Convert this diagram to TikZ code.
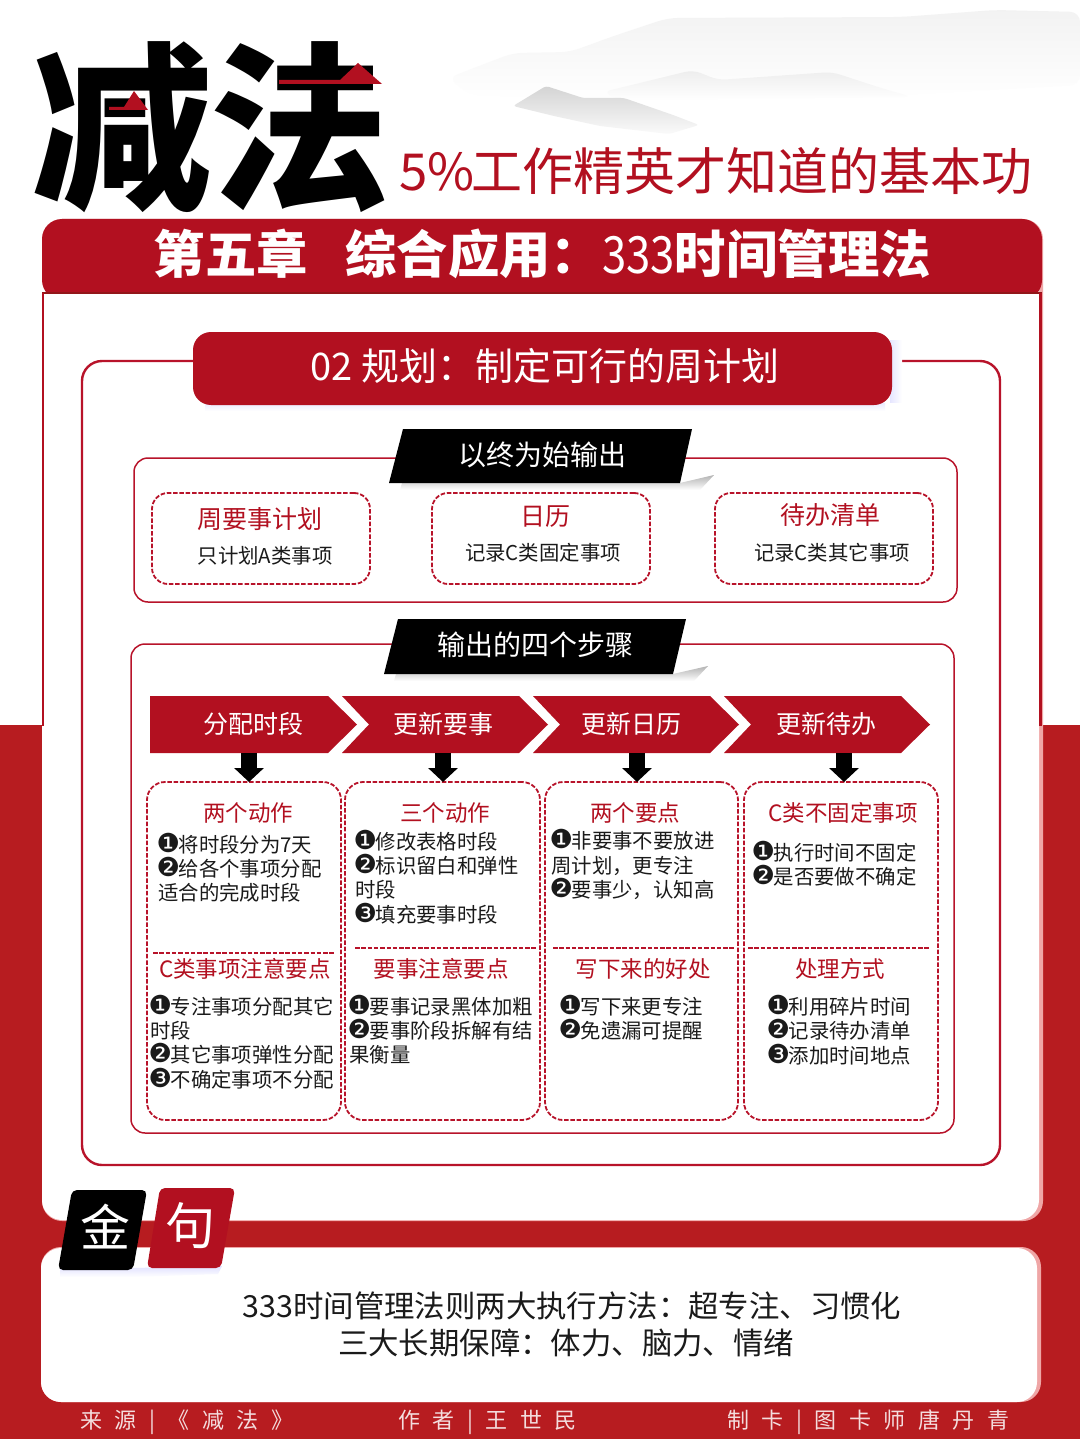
\documentclass[tikz,border=0pt]{standalone}
\usepackage{fontspec}
\setmainfont{Noto Sans CJK SC}
\newfontfamily\symf[Scale=1.28]{DejaVu Sans}
\newfontfamily\spacedf[LetterSpace=57]{Noto Sans CJK SC}
\usetikzlibrary{arrows.meta}
\definecolor{bgred}{HTML}{B71C20}
\definecolor{cardred}{HTML}{B21020}
\definecolor{lined}{HTML}{B8132A}
\definecolor{pink}{HTML}{EFA6A6}
\definecolor{ink}{HTML}{1A1A1A}
\newcommand\bu[1]{\makebox[1em][c]{\raisebox{-0.03em}{\symf #1}}}
\newcommand\bodyl[4]{\node[lab=20.4,anchor=west,text=ink] (#1) at (#2,#3) {#4};}
\tikzset{
  lab/.style={inner sep=0pt,font=\fontsize{#1pt}{#1pt}\selectfont,text height={0.84*#1pt},text depth={0.12*#1pt}},
  redh/.style={lab=22.5,text=cardred},
  outline/.style={draw=lined,line width=2.4pt,rounded corners=20pt},
  section/.style={draw=lined,line width=1.5pt,rounded corners=14pt},
  dashbox/.style={draw=lined,line width=1.8pt,dash pattern=on 4.5pt off 1.8pt,rounded corners=16pt,inner sep=0pt},
  sepline/.style={draw=lined,line width=1.8pt,dash pattern=on 4.5pt off 1.8pt},
  chev/.style={fill=cardred,draw=none},
  downarrow/.style={draw=black,line width=16pt,-{Triangle[width=29pt,length=14pt]}},
}
\begin{document}
\begin{tikzpicture}[x=1pt,y=-1pt]
\useasboundingbox (0,0) rectangle (1080,1439);
% background
\fill[white] (0,0) rectangle (1080,725);
\fill[bgred] (0,725) rectangle (1080,1439);
% mountains
\shade[top color=black!5,bottom color=white,rounded corners=10pt] (448,78) -- (513,53) -- (570,52) -- (611,37) -- (668,18) -- (901,17) -- (995,10) -- (1080,12) -- (1080,85) -- (900,95) -- (620,100) -- (470,95) -- cycle;
\shade[top color=black!7,bottom color=white,rounded corners=8pt] (603,92) -- (693,70) -- (718,80) -- (832,72) -- (881,88) -- (912,97) -- (620,100) -- cycle;
\shade[top color=black!17,bottom color=black!2,rounded corners=3pt] (513,106) -- (546,86) -- (583,98) -- (624,98) -- (673,115) -- (699,125) -- (669,134) -- (600,126) -- (554,116) -- cycle;
% title
\node[lab=180,font=\fontsize{180pt}{180pt}\selectfont\bfseries,text=black] (ti1) at (122,131) {减};
\node[lab=180,font=\fontsize{180pt}{180pt}\selectfont\bfseries,text=black] (ti2) at (299,131) {法};
\fill[cardred] (109,107) -- (124,107) -- (134,91) -- (148,110) -- (109,110) -- cycle;
\fill[cardred] (279,80) -- (340,80) -- (358,63) -- (382,84) -- (279,84) -- cycle;
\node[lab=51,anchor=west,text=cardred] (sub) at (399,172) {5\%\hspace{-3pt}工作精英才知道的基本功};
% main card
\fill[pink,rounded corners=20pt] (42,219) rectangle (1043,1221);
\fill[white,rounded corners=20pt] (42,219) rectangle (1039,1220);
\fill[cardred,rounded corners=20pt] (42,219) -- (1042,219) -- (1042,300) -- (42,300) -- cycle;
\fill[white] (42,293) rectangle (1039,305);
\fill[bgred!80!black] (42,292) rectangle (1042,294);
\fill[cardred] (1039,293) rectangle (1042,726);
\fill[cardred] (42,293) rectangle (43.5,726);
\node[lab=51.3,anchor=west,text=white] (head) at (153.5,255) {\bfseries 第五章\hspace{38pt}综合应用：{\mdseries\scalebox{0.85}[1]{333}}时间管理法};
% outer outline and pill
\draw[outline] (82,361) rectangle (1000,1165);
\shade[left color=blue!10,right color=white] (890,340) rectangle (902,402);
\shade[top color=blue!8,bottom color=white] (205,403) rectangle (885,411);
\fill[cardred,rounded corners=18pt] (193,332) rectangle (892,405);
\node[lab=38,text=white] (pill) at (545,367) {02 规划：制定可行的周计划};
% section 1
\draw[section] (134,458) rectangle (957,602);
\shade[top color=black!30,bottom color=white] (402,483) -- (680,483) -- (714,475) -- (700,490) -- (400,490) -- cycle;
\fill[black] (403,429) -- (692,429) -- (680,483) -- (389,483) -- cycle;
\node[lab=28,text=white] (sec1) at (542,455) {以终为始输出};
\node[dashbox,minimum width=218pt,minimum height=91pt] (d1) at (261,538.5) {};
\node[dashbox,minimum width=218pt,minimum height=91pt] (d2) at (541,538.5) {};
\node[dashbox,minimum width=218pt,minimum height=91pt] (d3) at (824,538.5) {};
\node[lab=25,text=cardred] (d1h) at (260,519) {周要事计划};
\node[lab=20.4,text=ink] (d1t) at (265,556) {只计划A类事项};
\node[lab=25,text=cardred] (d2h) at (545,516) {日历};
\node[lab=20.4,text=ink] (d2t) at (543,553) {记录C类固定事项};
\node[lab=25,text=cardred] (d3h) at (830,515) {待办清单};
\node[lab=20.4,text=ink] (d3t) at (832,553) {记录C类其它事项};
% section 2
\draw[section] (131,644) rectangle (954,1133);
\shade[top color=black!30,bottom color=white] (396,674) -- (673,674) -- (708,666) -- (694,681) -- (394,681) -- cycle;
\fill[black] (398,619) -- (686,619) -- (673,674) -- (384,674) -- cycle;
\node[lab=28,text=white] (sec2) at (535,645) {输出的四个步骤};
% chevrons
\fill[chev] (150,696) -- (328,696) -- (357,724.5) -- (328,753) -- (150,753) -- cycle;
\fill[chev] (342,696) -- (519,696) -- (548,724.5) -- (519,753) -- (342,753) -- (369,724.5) -- cycle;
\fill[chev] (533,696) -- (710,696) -- (739,724.5) -- (710,753) -- (533,753) -- (560,724.5) -- cycle;
\fill[chev] (724,696) -- (901,696) -- (930,724.5) -- (901,753) -- (724,753) -- (751,724.5) -- cycle;
\node[lab=25,text=white] (c1) at (253,724) {分配时段};
\node[lab=25,text=white] (c2) at (443,724) {更新要事};
\node[lab=25,text=white] (c3) at (631,724) {更新日历};
\node[lab=25,text=white] (c4) at (826,724) {更新待办};
% column boxes
\node[dashbox,rounded corners=18pt,minimum width=194pt,minimum height=338pt] (b1) at (244,951) {};
\node[dashbox,rounded corners=18pt,minimum width=195pt,minimum height=338pt] (b2) at (442.5,951) {};
\node[dashbox,rounded corners=18pt,minimum width=193pt,minimum height=338pt] (b3) at (641.5,951) {};
\node[dashbox,rounded corners=18pt,minimum width=194pt,minimum height=338pt] (b4) at (841,951) {};
% down arrows
\coordinate (a1s) at (249,753); \coordinate (a1e) at (249,782);
\coordinate (a2s) at (443,753); \coordinate (a2e) at (443,782);
\coordinate (a3s) at (637,753); \coordinate (a3e) at (637,782);
\coordinate (a4s) at (844,753); \coordinate (a4e) at (844,782);
\draw[downarrow] (a1s) -- (a1e);
\draw[downarrow] (a2s) -- (a2e);
\draw[downarrow] (a3s) -- (a3e);
\draw[downarrow] (a4s) -- (a4e);
% separators
\coordinate (s1a) at (153,953); \coordinate (s1b) at (334,953);
\coordinate (s2a) at (355,948); \coordinate (s2b) at (537,948);
\coordinate (s3a) at (553,948); \coordinate (s3b) at (735,948);
\coordinate (s4a) at (748,948); \coordinate (s4b) at (930,948);
\draw[sepline] (s1a) -- (s1b);
\draw[sepline] (s2a) -- (s2b);
\draw[sepline] (s3a) -- (s3b);
\draw[sepline] (s4a) -- (s4b);
% column headings
\node[redh] (h1) at (248,813) {两个动作};
\node[redh] (h2) at (445,813) {三个动作};
\node[redh] (h3) at (635,813) {两个要点};
\node[redh] (h4) at (843,813) {C类不固定事项};
\node[redh] (k1) at (245,969) {C类事项注意要点};
\node[redh] (k2) at (441,969) {要事注意要点};
\node[redh] (k3) at (643,969) {写下来的好处};
\node[redh] (k4) at (840,969) {处理方式};
% column text
\bodyl{a1}{158}{845}{\bu{❶}将时段分为7天}
\bodyl{a2}{158}{869}{\bu{❷}给各个事项分配}
\bodyl{a3}{158}{893}{适合的完成时段}
\bodyl{b1t}{355}{842}{\bu{❶}修改表格时段}
\bodyl{b2t}{355}{866}{\bu{❷}标识留白和弹性}
\bodyl{b3t}{355}{890}{时段}
\bodyl{b4t}{355}{915}{\bu{❸}填充要事时段}
\bodyl{e1}{551}{841}{\bu{❶}非要事不要放进}
\bodyl{e2}{551}{866}{周计划，更专注}
\bodyl{e3}{551}{890}{\bu{❷}要事少，认知高}
\bodyl{f1}{753}{853}{\bu{❶}执行时间不固定}
\bodyl{f2}{753}{877}{\bu{❷}是否要做不确定}
\bodyl{g1}{150}{1007}{\bu{❶}专注事项分配其它}
\bodyl{g2}{150}{1031}{时段}
\bodyl{g3}{150}{1055}{\bu{❷}其它事项弹性分配}
\bodyl{g4}{150}{1080}{\bu{❸}不确定事项不分配}
\bodyl{m1}{349}{1007}{\bu{❶}要事记录黑体加粗}
\bodyl{m2}{349}{1031}{\bu{❷}要事阶段拆解有结}
\bodyl{m3}{349}{1055}{果衡量}
\bodyl{n1}{560}{1007}{\bu{❶}写下来更专注}
\bodyl{n2}{560}{1031}{\bu{❷}免遗漏可提醒}
\bodyl{p1}{768}{1007}{\bu{❶}利用碎片时间}
\bodyl{p2}{768}{1031}{\bu{❷}记录待办清单}
\bodyl{p3}{768}{1056}{\bu{❸}添加时间地点}
% quote card
\fill[pink,rounded corners=20pt] (41,1247) rectangle (1041,1402);
\fill[white,rounded corners=20pt] (41,1248) rectangle (1037,1402);
\shade[top color=blue!12,bottom color=white] (60,1268) -- (133,1268) -- (222,1266) -- (218,1274) -- (132,1277) -- (60,1277) -- cycle;
\fill[black,rounded corners=5pt] (72,1190) -- (147,1190) -- (133,1270) -- (58,1270) -- cycle;
\fill[cardred,rounded corners=5pt] (160,1188) -- (235,1188) -- (221,1268) -- (147,1268) -- cycle;
\node[lab=50,text=white] (jin) at (105,1228) {金};
\node[lab=50,text=white] (ju) at (190,1226) {句};
\node[lab=30.4,text=ink] (q1) at (572,1307) {333时间管理法则两大执行方法：超专注、习惯化};
\node[lab=30.4,text=ink] (q2) at (566,1344) {三大长期保障：体力、脑力、情绪};
% footer
\node[lab=22,anchor=west,text=white!85!bgred,font=\fontsize{22pt}{22pt}\spacedf] (fa) at (80,1421) {来源|《减法》};
\node[lab=22,anchor=west,text=white!85!bgred,font=\fontsize{22pt}{22pt}\spacedf] (fb) at (398,1421) {作者|王世民};
\node[lab=22,anchor=west,text=white!85!bgred,font=\fontsize{22pt}{22pt}\spacedf] (fc) at (727,1421) {制卡|图卡师唐丹青};
\end{tikzpicture}
\end{document}
